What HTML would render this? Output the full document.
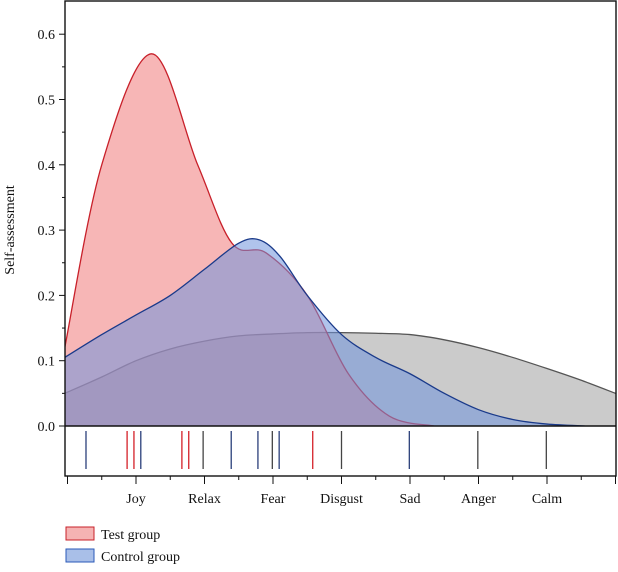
<!DOCTYPE html>
<html><head><meta charset="utf-8"><style>
body{margin:0;background:#fff}
svg text{font-family:"Liberation Serif",serif;fill:#111}
</style></head><body>
<svg id="c" width="618" height="567" xmlns="http://www.w3.org/2000/svg"></svg>
<script>
const categories=["Joy","Relax","Fear","Disgust","Sad","Anger","Calm"];
const yTicks=[0,0.1,0.2,0.3,0.4,0.5,0.6];
const testX=[-0.04,0.5,1.23,1.9,2.4,2.9,3.5,4.1,4.7,5.35];
const testY=[0.12,0.4,0.57,0.4,0.28,0.265,0.2,0.08,0.015,0];
const ctrlX=[-0.04,0.5,1.0,1.5,2.0,2.5,2.8,3.1,3.5,4.0,4.5,5.0,5.5,6.0,6.5,7.0,7.55];
const ctrlY=[0.105,0.14,0.17,0.20,0.24,0.28,0.285,0.26,0.2,0.14,0.105,0.08,0.05,0.025,0.01,0.003,0];
const allX=[-0.04,0.5,1,1.5,2,2.5,3,3.5,4,4.5,5,5.5,6,6.5,7,7.5,8];
const allY=[0.05,0.075,0.1,0.118,0.13,0.138,0.141,0.143,0.143,0.142,0.14,0.132,0.12,0.105,0.088,0.07,0.05];
const rugX=[0.27,0.87,0.97,1.07,1.67,1.77,1.98,2.39,2.78,2.99,3.09,3.58,4.0,4.99,5.99,6.99];
const rugKind=["c","t","t","c","t","t","a","c","c","a","c","t","a","c","a","a"];
const NS="http://www.w3.org/2000/svg",svg=document.getElementById('c');
const L=65,R=616,T=1,B=426;
const sx=v=>67.5+v*68.5, sy=v=>426-v*653;
function mk(t,a,p){const e=document.createElementNS(NS,t);for(const k in a)e.setAttribute(k,a[k]);(p||svg).appendChild(e);return e;}
function smooth(xs,ys){const P=xs.map((x,i)=>[sx(x),sy(ys[i])]);let d="M"+P[0][0]+","+P[0][1];
for(let i=0;i<P.length-1;i++){const p0=P[Math.max(0,i-1)],p1=P[i],p2=P[i+1],p3=P[Math.min(P.length-1,i+2)];
d+=" C"+(p1[0]+(p2[0]-p0[0])/6)+","+Math.min(426,p1[1]+(p2[1]-p0[1])/6)+" "+(p2[0]-(p3[0]-p1[0])/6)+","+Math.min(426,p2[1]-(p3[1]-p1[1])/6)+" "+p2[0]+","+p2[1];}
return d;}
const clip=mk('clipPath',{id:'pc'});mk('rect',{x:L,y:T,width:R-L,height:B-T},clip);
const g=mk('g',{'clip-path':'url(#pc)'});
function area(xs,ys,fill,stroke,op,name){const d=smooth(xs,ys);
const a=mk('path',{d:d+" L"+sx(xs[xs.length-1])+","+B+" L"+sx(xs[0])+","+B+"Z",fill:fill,'fill-opacity':op},g);

const l=mk('path',{d:d,fill:'none',stroke:stroke,'stroke-width':1.3},g);
}
area(allX,allY,'#a8a8a8','#555',0.6,'all-density');
area(testX,testY,'#f07a7a','#c8202a',0.55,'test-density');
area(ctrlX,ctrlY,'#6f93dc','#1a3a8a',0.55,'control-density');
mk('rect',{x:L,y:T,width:R-L,height:476-T,fill:'none',stroke:'#111','stroke-width':1.4});
mk('line',{x1:L,x2:R,y1:B,y2:B,stroke:'#111','stroke-width':1.6});
yTicks.forEach(v=>{mk('line',{x1:L-6,x2:L,y1:sy(v),y2:sy(v),stroke:'#111'});
const t=mk('text',{x:L-10,y:sy(v)+5,'text-anchor':'end','font-size':14});t.textContent=v.toFixed(1);

if(v<0.6)mk('line',{x1:L-3,x2:L,y1:sy(v+0.05),y2:sy(v+0.05),stroke:'#111'});});
const yl=mk('text',{x:0,y:0,transform:'translate(14,230) rotate(-90)','text-anchor':'middle','font-size':14});yl.textContent='Self-assessment';

for(let i=0;i<=8;i++){mk('line',{x1:sx(i),x2:sx(i),y1:476,y2:484,stroke:'#111'});if(i<8)mk('line',{x1:sx(i+0.5),x2:sx(i+0.5),y1:476,y2:480,stroke:'#111'});}
categories.forEach((c,i)=>{const t=mk('text',{x:sx(i+1),y:503,'text-anchor':'middle','font-size':14});t.textContent=c;
});
const rc={t:'#d42028',c:'#2a3f7a',a:'#444'};
rugX.forEach((v,i)=>{const l=mk('line',{x1:sx(v),x2:sx(v),y1:431,y2:469,stroke:rc[rugKind[i]],'stroke-width':1.3});
});
[['Test group','#f5b3b3','#c8202a',527],['Control group','#a9bfe8','#2a5ab8',549]].forEach(([n,f,s,y])=>{
const r=mk('rect',{x:66,y:y,width:28,height:13,fill:f,stroke:s});
const t=mk('text',{x:101,y:y+12,'font-size':14});t.textContent=n;});
</script>
</body></html>
